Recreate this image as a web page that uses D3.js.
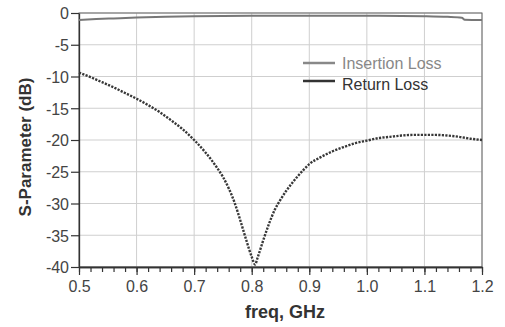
<!DOCTYPE html>
<html><head><meta charset="utf-8">
<script src="https://cdn.jsdelivr.net/npm/d3@7"></script>
<style>body{margin:0;background:#fff;}svg{display:block;font-family:"Liberation Sans",Arial,sans-serif;}</style>
</head><body>
<svg id="c" width="505" height="327"></svg>
<script>
const xTicks = [0.5,0.6,0.7,0.8,0.9,1.0,1.1,1.2];
const yTicks = [0,-5,-10,-15,-20,-25,-30,-35,-40];
const seriesNames = ["Insertion Loss","Return Loss"];

const ilFreq = [0.50,0.53,0.56,0.60,0.65,0.70,0.80,0.90,1.00,1.10,1.14,1.165,1.17,1.20];
const ilVals = [-1.1,-0.95,-0.85,-0.72,-0.6,-0.52,-0.45,-0.42,-0.42,-0.5,-0.6,-0.75,-1.05,-1.1];

const rlFreq = [0.50,0.52,0.54,0.56,0.58,0.60,0.62,0.64,0.66,0.68,0.70,0.72,0.74,0.75,0.76,0.77,0.78,0.79,0.80,0.806,0.81,0.82,0.83,0.84,0.85,0.86,0.87,0.88,0.89,0.90,0.92,0.94,0.96,0.98,1.00,1.02,1.04,1.06,1.08,1.10,1.12,1.14,1.16,1.18,1.20];
const rlVals = [-9.4,-10.1,-10.9,-11.7,-12.6,-13.5,-14.5,-15.6,-16.9,-18.3,-20.0,-22.0,-24.4,-25.8,-27.6,-29.8,-32.6,-35.6,-38.4,-39.6,-38.6,-35.8,-33.2,-31.0,-29.4,-28.0,-26.8,-25.7,-24.7,-23.8,-22.7,-21.8,-21.1,-20.5,-20.1,-19.7,-19.5,-19.3,-19.2,-19.2,-19.2,-19.3,-19.5,-19.8,-20.0];

const svg = d3.select("#c");
const L=79,R=482,T=13,B=267;
const x = d3.scaleLinear().domain([0.5,1.2]).range([L,R]);
const y = d3.scaleLinear().domain([0,-40]).range([T,B]);

// grid
const g = svg.append("g");
g.selectAll(".vg").data(xTicks).enter().append("line")
  .attr("x1",d=>x(d)).attr("x2",d=>x(d)).attr("y1",T).attr("y2",B)
  .attr("stroke","#cfcfcf").attr("stroke-width",1);
g.selectAll(".hg").data(yTicks).enter().append("line")
  .attr("x1",L).attr("x2",R).attr("y1",d=>y(d)).attr("y2",d=>y(d))
  .attr("stroke","#cfcfcf").attr("stroke-width",1);

// frame
svg.append("rect").attr("x",L).attr("y",T).attr("width",R-L).attr("height",B-T)
  .attr("fill","none").attr("stroke","#666").attr("stroke-width",1);

// axes
const minor = d3.range(0.5,1.2001,0.02);
const xAxisMinor = d3.axisBottom(x).tickValues(minor).tickSize(5).tickSizeOuter(0).tickFormat("");
const gxm = svg.append("g").attr("transform",`translate(0,${B})`).call(xAxisMinor);
const xAxis = d3.axisBottom(x).tickValues(xTicks).tickSize(8).tickSizeOuter(0).tickPadding(6).tickFormat(d3.format(".1f"));
const gx = svg.append("g").attr("transform",`translate(0,${B})`).call(xAxis);
const yAxis = d3.axisLeft(y).tickValues(yTicks).tickSize(8).tickSizeOuter(0).tickPadding(2).tickFormat(d=>String(d));
const gy = svg.append("g").attr("transform",`translate(${L},0)`).call(yAxis);
[gx,gy,gxm].forEach(a=>{
  a.select(".domain").attr("stroke","#333").attr("stroke-width",1.3);
  a.selectAll(".tick line").attr("stroke","#333").attr("stroke-width",1.2);
  a.selectAll("text").attr("font-size",16).attr("fill","#444")
   .attr("font-family","'Liberation Sans',Arial,sans-serif");
});
gy.selectAll("text").attr("dy","0.36em");

// lines
const line = d3.line().x(d=>x(d[0])).y(d=>y(d[1])).curve(d3.curveMonotoneX);
svg.append("path").datum(ilFreq.map((f,i)=>[f,ilVals[i]]))
  .attr("d",line).attr("fill","none").attr("stroke","#777").attr("stroke-width",2);
svg.append("path").datum(rlFreq.map((f,i)=>[f,rlVals[i]]))
  .attr("d",line).attr("fill","none").attr("stroke","#383838").attr("stroke-width",2.4)
  .attr("stroke-dasharray","2.2,1.3");

// legend
const lg = svg.append("g");
const legColors = ["#888","#333"];
const legY = [63,81];
seriesNames.forEach((n,i)=>{
  lg.append("line").attr("x1",303).attr("x2",335).attr("y1",legY[i]).attr("y2",legY[i])
    .attr("stroke",legColors[i]).attr("stroke-width",2.5);
  lg.append("text").attr("x",342).attr("y",legY[i]+(i===0?6:9)).text(n)
    .attr("font-size",16).attr("fill",i===0?"#888":"#333");
});

// titles
svg.append("text").attr("x",285).attr("y",318).attr("text-anchor","middle")
  .attr("font-size",18).attr("font-weight","bold").attr("fill","#333").text("freq, GHz");
svg.append("text").attr("transform","translate(31,147) rotate(-90)").attr("text-anchor","middle")
  .attr("font-size",17).attr("font-weight","bold").attr("fill","#333").text("S-Parameter (dB)");
</script>
</body></html>
